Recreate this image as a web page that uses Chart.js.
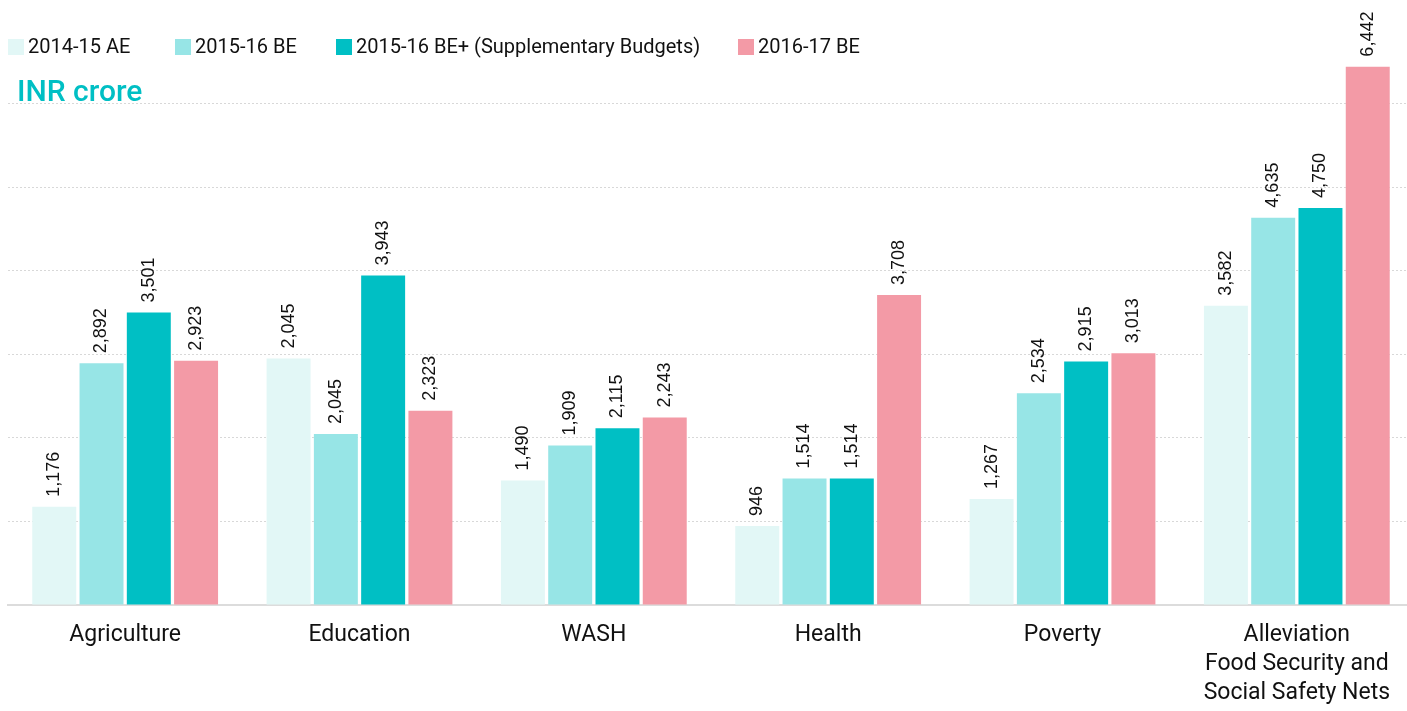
<!DOCTYPE html>
<html>
<head>
<meta charset="utf-8">
<script src="https://cdn.jsdelivr.net/npm/chart.js@4.4.1/dist/chart.umd.min.js"></script>
<style>
  html, body { margin: 0; padding: 0; background: #fff; overflow: hidden; }
  #wrap { width: 1414px; height: 711px; position: relative; }
</style>
</head>
<body>
<div id="wrap"><canvas id="budgetChart"></canvas></div>
<script>
// categories (x axis)
const categories = [
    'Agriculture',
    'Education',
    'WASH',
    'Health',
    'Poverty',
    ['Alleviation', 'Food Security and', 'Social Safety Nets']
]

// series values, INR crore
const ae1415 = [1176, 2950, 1490, 946, 1267, 3582]
const be1516 = [2892, 2045, 1909, 1514, 2534, 4635]
const bePlus1516 = [3501, 3943, 2115, 1514, 2915, 4750]
const be1617 = [2923, 2323, 2243, 3708, 3013, 6442]

// printed labels for the AE series (Education bar is labelled 2,045 in the source)
const ae1415Labels = ['1,176', '2,045', '1,490', '946', '1,267', '3,582']

const seriesNames = ['2014-15 AE', '2015-16 BE', '2015-16 BE+ (Supplementary Budgets)', '2016-17 BE']
const seriesColors = ['#e2f7f6', '#97e5e6', '#00bfc4', '#f39aa6']

const fmt = v => v.toLocaleString('en-US')

// value labels above each bar, rotated
const valueLabels = {
    id: 'valueLabels',
    afterDatasetsDraw(chart) {
        const ctx = chart.ctx
        ctx.save()
        ctx.font = '18px "Liberation Sans", Arial, sans-serif'
        ctx.fillStyle = '#111'
        ctx.textAlign = 'left'
        ctx.textBaseline = 'middle'
        chart.data.datasets.forEach((ds, i) => {
            chart.getDatasetMeta(i).data.forEach((bar, j) => {
                const txt = ds.shownLabels ? ds.shownLabels[j] : fmt(ds.data[j])
                ctx.save()
                ctx.translate(bar.x, bar.y - 10)
                ctx.rotate(-Math.PI / 2)
                ctx.fillText(txt, 0, 0)
                ctx.restore()
            })
        })
        ctx.restore()
    }
}

// legend row + unit title
const headerPlugin = {
    id: 'header',
    afterDraw(chart) {
        const ctx = chart.ctx
        ctx.save()
        const boxX = [8, 175, 336, 738]
        ctx.font = '20px Roboto, sans-serif'
        ctx.textBaseline = 'middle'
        ctx.textAlign = 'left'
        seriesNames.forEach((name, i) => {
            ctx.fillStyle = seriesColors[i]
            ctx.fillRect(boxX[i], 39, 16, 16)
            ctx.fillStyle = '#111'
            ctx.fillText(name, boxX[i] + 20, 48)
        })
        ctx.font = '500 30px Roboto, sans-serif'
        ctx.fillStyle = '#00bfc4'
        ctx.fillText('INR crore', 17, 93)
        ctx.restore()
    }
}

const ctx = document.getElementById('budgetChart').getContext('2d')
const budgetChart = new Chart(ctx, {
    type: 'bar',
    data: {
        labels: categories,
        datasets: [
            { label: seriesNames[0], data: ae1415, shownLabels: ae1415Labels, backgroundColor: seriesColors[0] },
            { label: seriesNames[1], data: be1516, backgroundColor: seriesColors[1] },
            { label: seriesNames[2], data: bePlus1516, backgroundColor: seriesColors[2] },
            { label: seriesNames[3], data: be1617, backgroundColor: seriesColors[3] }
        ]
    },
    options: {
        responsive: true,
        maintainAspectRatio: false,
        animation: false,
        categoryPercentage: 0.807,
        barPercentage: 0.93,
        layout: {
            padding: { top: 20, left: 8, right: 0, bottom: 0 }
        },
        scales: {
            x: {
                grid: { display: false, drawTicks: false },
                border: { display: true, color: '#dcdcdc', width: 2 },
                ticks: {
                    color: '#111',
                    padding: 16,
                    maxRotation: 0,
                    autoSkip: false,
                    font: { family: 'Roboto', size: 23, lineHeight: 1.26 }
                },
                afterFit(scale) { scale.height = 106 }
            },
            y: {
                min: 0,
                max: 7000,
                ticks: { display: false, stepSize: 1000 },
                border: { display: false, dash: [2, 2] },
                grid: {
                    drawTicks: false,
                    color: c => (c.tick.value > 0 && c.tick.value < 7000) ? '#d8d8d8' : 'rgba(0,0,0,0)'
                },
                afterFit(scale) { scale.width = 0 }
            }
        },
        plugins: {
            legend: { display: false },
            tooltip: { enabled: false }
        }
    },
    plugins: [valueLabels, headerPlugin]
})
</script>
</body>
</html>
